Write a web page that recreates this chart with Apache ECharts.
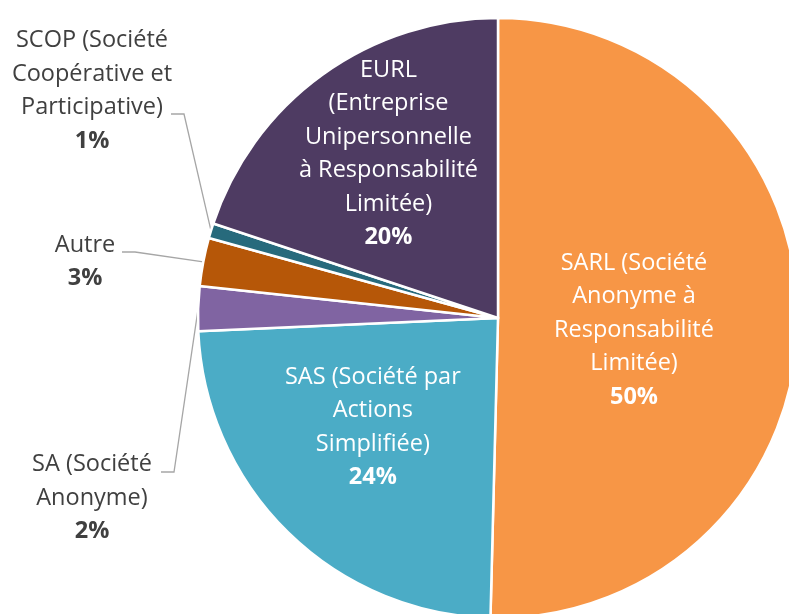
<!DOCTYPE html>
<html>
<head>
<meta charset="utf-8">
<script src="https://cdn.jsdelivr.net/npm/echarts@6/dist/echarts.min.js"></script>
<style>
  html, body { margin: 0; padding: 0; background: #ffffff; }
  #chart { width: 789px; height: 614px; }
</style>
</head>
<body>
<div id="chart"></div>
<script>
// données du graphique (sens horaire depuis midi)
var categories = [
  'SARL (Société\nAnonyme à\nResponsabilité\nLimitée)',
  'SAS (Société par\nActions\nSimplifiée)',
  'SA (Société\nAnonyme)',
  'Autre',
  'SCOP (Société\nCoopérative et\nParticipative)',
  'EURL\n(Entreprise\nUnipersonnelle\nà Responsabilité\nLimitée)'
];
var values = [50.4, 23.9, 2.4, 2.6, 0.8, 19.9];

var colors = ['#F79646', '#4BACC6', '#8064A2', '#B65708', '#276A7C', '#4E3B62'];
var insideLabel = [true, true, false, false, false, true];

// placement des étiquettes, à la manière d'Excel
// inside : décalage (dx, dy) ; outside : centre du bloc + départ du trait de rappel
var labelMoves = {
  0: { dx: -17, dy: 10 },
  1: { dx: -18, dy: 0 },
  2: { x: 92, y: 498, lx: 161, ly: 472 },
  3: { x: 85, y: 262, lx: 122, ly: 252 },
  4: { x: 92, y: 91, lx: 171, ly: 114 },
  5: { dx: -20, dy: -40 }
};

function labelText(p) {
  var lines = p.name.split('\n').map(function (s) { return '{n|' + s + '}'; });
  lines.push('{p|' + Math.round(p.percent) + '%}');
  return lines.join('\n');
}

var chart = echarts.init(document.getElementById('chart'), null, { renderer: 'canvas' });

var data = categories.map(function (name, i) {
  var inside = insideLabel[i];
  var txt = inside ? '#ffffff' : '#404040';
  return {
    name: name,
    value: values[i],
    itemStyle: { color: colors[i] },
    label: {
      position: inside ? 'inside' : 'outside',
      rich: {
        n: { color: txt, fontSize: 23.5, lineHeight: 33.5, fontFamily: 'Open Sans', align: 'center' },
        p: { color: txt, fontSize: 23.5, lineHeight: 33.5, fontFamily: 'Open Sans', fontWeight: 'bold', align: 'center' }
      }
    },
    labelLine: { show: !inside }
  };
});

var option = {
  backgroundColor: '#ffffff',
  animation: false,
  series: [{
    type: 'pie',
    center: [498, 318],
    radius: [0, 300],
    startAngle: 90,
    clockwise: true,
    avoidLabelOverlap: false,
    itemStyle: { borderColor: '#ffffff', borderWidth: 2.5 },
    label: {
      show: true,
      formatter: labelText,
      textAlign: 'center'
    },
    labelLine: {
      show: true,
      length: 10,
      length2: 14,
      lineStyle: { color: '#A6A6A6', width: 1.3 }
    },
    labelLayout: function (p) {
      var m = labelMoves[p.dataIndex];
      if (!m) return {};
      if (m.x == null) return { dx: m.dx, dy: m.dy };
      var anchor = p.labelLinePoints ? p.labelLinePoints[0] : null;
      var out = { x: m.x, y: m.y, align: 'center', verticalAlign: 'middle' };
      if (anchor) {
        out.labelLinePoints = [
          [anchor[0], anchor[1]],
          [m.lx + 13, m.ly],
          [m.lx, m.ly]
        ];
      }
      return out;
    },
    data: data
  }]
};

chart.setOption(option);
</script>
</body>
</html>
